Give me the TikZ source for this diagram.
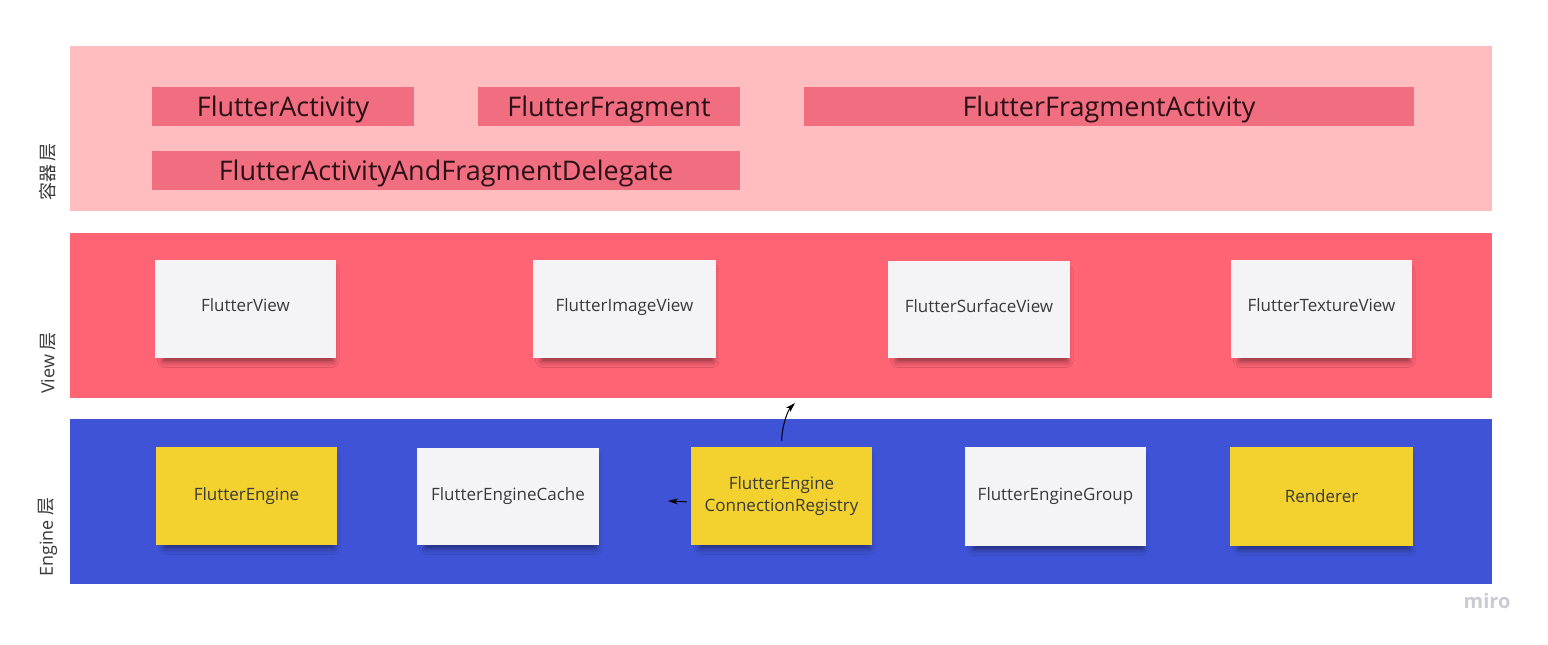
\documentclass[tikz,border=0pt]{standalone}
\usepackage{fontspec}
\setmainfont{Open Sans}
\newfontfamily\cjk{Noto Sans CJK SC}
\usetikzlibrary{arrows.meta,shadows.blur}
\definecolor{bandA}{HTML}{FFBDBF}
\definecolor{boxA}{HTML}{F06E80}
\definecolor{bandB}{HTML}{FF6475}
\definecolor{bandC}{HTML}{3F53D7}
\definecolor{noteY}{HTML}{F3D22F}
\definecolor{noteW}{HTML}{F4F4F7}
\definecolor{txtA}{HTML}{2B1117}
\definecolor{txtN}{HTML}{3A3A3A}
\definecolor{miroC}{HTML}{CACAD4}
\tikzset{
  band/.style={fill=#1, draw=none},
  cbox/.style={fill=boxA, draw=none, minimum height=39pt, inner sep=0pt,
    text height=24pt, text depth=4pt,
    text=txtA, font=\fontsize{27}{30}\selectfont},
  note/.style={fill=#1, draw=none, minimum height=98pt, minimum width=181pt, inner sep=0pt,
    text=txtN, font=\fontsize{17}{22}\selectfont, align=center,
    blur shadow={shadow xshift=3pt, shadow yshift=-7pt, shadow blur radius=6pt, shadow opacity=45, shadow scale=0.94}},
  vnote/.style={note=#1, text height=10pt, text depth=5pt},
  layerlabel/.style={rotate=90, text=txtN, font=\fontsize{18}{20}\selectfont},
  arr/.style={-{Stealth[length=10pt,width=6pt]}, line width=1pt, black}
}
\begin{document}
\begin{tikzpicture}[x=1pt,y=-1pt]
\useasboundingbox (0,0) rectangle (1548,645);
\fill[white] (0,0) rectangle (1548,645);
% bands
\fill[band=bandA] (70,46) rectangle (1492,211);
\fill[band=bandB] (70,233) rectangle (1492,398);
\fill[band=bandC] (70,419) rectangle (1492,584);
% layer labels
\node[layerlabel] (lA) at (48,172) {{\cjk 容器\,层}};
\node[layerlabel] (lB) at (48,363) {View {\cjk 层}};
\node[layerlabel] (lC) at (48,537) {Engine {\cjk 层}};
% container boxes
\node[cbox, minimum width=262pt] (fa) at (283,106.5) {FlutterActivity};
\node[cbox, minimum width=262pt] (ff) at (609,106.5) {FlutterFragment};
\node[cbox, minimum width=610pt] (ffa) at (1109,106.5) {FlutterFragmentActivity};
\node[cbox, minimum width=588pt] (fd) at (446,170.5) {FlutterActivityAndFragmentDelegate};
% view notes
\node[vnote=noteW] (fv) at (245.5,309) {FlutterView};
\node[vnote=noteW, minimum width=183pt] (fiv) at (624.5,309) {FlutterImageView};
\node[vnote=noteW, minimum width=182pt, minimum height=97pt] (fsv) at (979,309.5) {FlutterSurfaceView};
\node[vnote=noteW] (ftv) at (1321.5,309) {FlutterTextureView};
% engine notes
\node[note=noteY] (fe) at (246.5,496) {FlutterEngine};
\node[note=noteW, minimum width=182pt, minimum height=97pt] (fec) at (508,496.5) {FlutterEngineCache};
\node[note=noteY] (reg) at (781.5,496) {FlutterEngine\\ConnectionRegistry};
\node[note=noteW, minimum height=99pt] (feg) at (1055.5,496.5) {FlutterEngineGroup};
\node[note=noteY, minimum width=183pt, minimum height=99pt] (rend) at (1321.5,496.5) {Renderer};
% connectors
\coordinate (e1) at (795,403);
\coordinate (e2) at (668,501);
\draw[arr, shorten <=6pt] (reg.north) .. controls (782,425) and (788,410) .. (e1);
\draw[arr, shorten <=4pt] ([yshift=-6pt]reg.west) -- (e2);
% watermark
\node[text=miroC, font=\fontsize{20}{22}\selectfont\bfseries] (miro) at (1487,601) {miro};
\end{tikzpicture}
\end{document}
